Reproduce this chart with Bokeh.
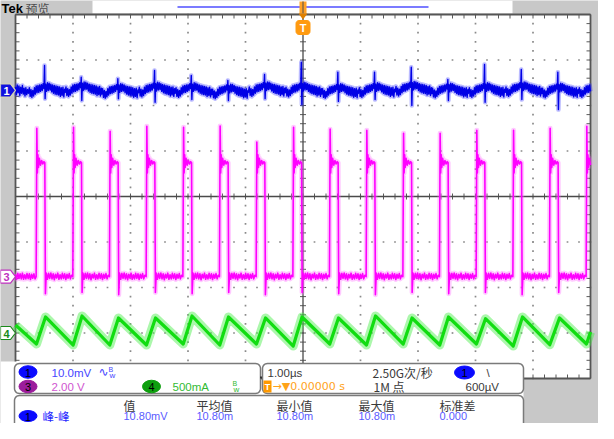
import numpy as np
from bokeh.plotting import figure
from bokeh.models import Range1d
from bokeh.core.properties import value
from bokeh.embed import file_html
from bokeh.resources import INLINE

CH1_MV_PER_DIV = 10.0      # ch1 10.0 mV/div
CH3_V_PER_DIV = 2.0        # ch3 2.00 V/div
CH4_MA_PER_DIV = 500.0     # ch4 500 mA/div
CH1_POS, CH3_POS, CH4_POS = 2.33, -1.76, -3.0   # ground markers (div)

# Ch3 (switch node): rising-edge time of every pulse (us, trigger = 0)
ch3_rise_us = [-4.635, -3.997, -3.360, -2.722, -2.083, -1.447, -0.809, -0.170,
               0.466, 1.104, 1.743, 2.379, 3.017, 3.656, 4.292, 4.930]
ch3_spike_V = [6.52, 6.56, 6.39, 6.61, 6.56, 6.62, 5.91, 6.56,
               6.48, 6.43, 6.30, 6.30, 6.43, 6.43, 6.52, 6.61]
ch3_undershoot_V = [-0.75, -0.70, -0.80, -0.70, -0.75, -0.70, -0.80, -0.70,
                    -0.75, -0.80, -0.70, -0.75, -0.70, -0.80, -0.70, -0.70]
ch3_ring_rel_us = [0.015, 0.025, 0.035, 0.05, 0.07, 0.09, 0.11, 0.13, 0.145]
ch3_ring_V = [4.55, 5.35, 4.80, 5.20, 4.90, 5.10, 4.95, 5.05, 5.00]
ch3_fall_rel_us = 0.155
ch3_tail_rel_us = [0.17, 0.19, 0.21, 0.23, 0.25, 0.27, 0.29, 0.31, 0.33, 0.35, 0.37, 0.39,
                   0.41, 0.43, 0.45, 0.47, 0.49, 0.51, 0.53, 0.55, 0.57, 0.59, 0.61]
ch3_tail_V = [0.15, -0.12, 0.14, -0.08, 0.16, -0.10, 0.12, -0.14, 0.10, -0.06, 0.15, -0.12,
              0.08, -0.10, 0.14, -0.08, 0.12, -0.13, 0.10, -0.07, 0.13, -0.10, 0.06]
ch3_lead_us = [-5.0, -4.98, -4.96, -4.94, -4.92, -4.90, -4.88, -4.86, -4.84, -4.82, -4.80,
               -4.78, -4.76, -4.74, -4.72, -4.70, -4.68, -4.66]
ch3_lead_V = [0.10, -0.12, 0.14, -0.08, 0.12, -0.10, 0.15, -0.12, 0.08, -0.10, 0.13,
              -0.09, 0.12, -0.13, 0.10, -0.07, 0.12, -0.10]

# Ch4 (inductor current): vertices of the triangle wave
ch4_t_us = [-5.0, -4.635, -4.478, -3.997, -3.843, -3.360, -3.209, -2.722, -2.565,
            -2.083, -1.930, -1.447, -1.296, -0.809, -0.652, -0.170, -0.017,
            0.466, 0.617, 1.104, 1.261, 1.743, 1.896, 2.379, 2.530, 3.017, 3.174,
            3.656, 3.817, 4.292, 4.461, 4.930, 5.0]
ch4_mA = [88, -121, 176, -132, 187, -132, 165, -132, 165, -121, 187, -132, 176,
          -121, 165, -143, 176, -121, 165, -132, 187, -121, 165, -132, 176,
          -121, 157, -143, 176, -129, 165, -121, 11]

# Ch1 (output ripple): shape around each switching event
ch1_lead_us = [-5.0, -4.985, -4.97, -4.955, -4.94, -4.925, -4.91, -4.895, -4.88,
               -4.865, -4.85, -4.835, -4.82, -4.805, -4.79]
ch1_lead_mV = [0.8, -0.9, 1.2, -0.5, 1.0, -1.1, 0.7, -0.6, 1.1, -0.8, 0.5, -1.2, 0.6, -0.9, 0.2]
ch1_pre_rel_us = [-0.140, -0.125, -0.110, -0.095, -0.080, -0.065, -0.050, -0.035,
                  -0.020, -0.005, 0.010, 0.025, 0.040, 0.055, 0.070, 0.085,
                  0.100, 0.115, 0.130]
ch1_pre_mV = [-0.6, 0.6, -1.3, 0.2, -1.5, 0.0, -1.2, 0.6, -0.8, 1.0, -0.5, 1.1,
              -0.4, 1.2, -0.2, 1.3, 0.0, 1.5, 0.4]
ch1_spike_rel_us = [0.140, 0.150]
ch1_spike_top_mV = [5.5, 2.9, 2.6, 4.4, 3.3, 2.2, 3.5, 6.2, 4.0, 4.0, 5.1, 2.4, 5.7, 4.6, 4.0, 4.0]
ch1_spike_bot_mV = [-1.8, -2.2, -1.8, -2.6, -2.0, -2.2, -1.8, -3.1, -2.4, -2.0, -3.3, -2.2, -2.6, -2.0, -4.2, -2.2]
ch1_post_rel_us = [0.160, 0.175, 0.190, 0.205, 0.220, 0.235, 0.250, 0.265, 0.280,
                   0.295, 0.310, 0.325, 0.340, 0.355, 0.370, 0.385, 0.400, 0.415,
                   0.430, 0.445, 0.460, 0.475, 0.490]
ch1_post_mV = [1.4, -0.2, 1.7, 0.0, 1.6, 0.1, 1.4, -0.3, 1.2, -0.6, 1.1, -0.8, 1.0,
               -0.9, 0.9, -1.0, 0.8, -1.3, 0.6, -1.1, 0.7, -1.4, 0.3]
ch1_wander_mV = [0.0, 0.2, -0.2, 0.1, 0.0, -0.3, 0.2, 0.1, -0.2, 0.0, 0.3, -0.1, 0.0, 0.2, -0.1, 0.0]

# readouts
meas_headers = ["值", "平均值", "最小值", "最大值", "标准差"]
meas_values = ["10.80mV", "10.80m", "10.80m", "10.80m", "0.000"]
meas_name = "峰-峰"

# ---------------- layout (page pixels -> scope units) ----------------
W, H = 598, 423
X_C, X_DIV = 310.5, 57.5
Y_C, Y_DIV = 204.0, 45.5


def tx(px):
    return (px - X_C) / X_DIV


def ty(py):
    return (Y_C - py) / Y_DIV


p = figure(width=W, height=H, x_range=Range1d(tx(8), tx(8 + W)),
           y_range=Range1d(ty(8 + H), ty(8)), output_backend="svg",
           toolbar_location=None, x_axis_type=None, y_axis_type=None, min_border=0)
p.grid.visible = False
p.outline_line_color = None
p.background_fill_color = "#c8c8c8"
p.border_fill_color = "#c8c8c8"


def quad_px(x0, y0, x1, y1, color):
    p.quad(left=[tx(x0)], right=[tx(x1)], top=[ty(y0)], bottom=[ty(y1)],
           fill_color=color, line_color=None)


def rrect_px(x0, y0, x1, y1, r, fill, line, lw=1.5):
    xs, ys = [], []
    for cx, cy, a0 in [(x1 - r, y0 + r, -90), (x1 - r, y1 - r, 0),
                       (x0 + r, y1 - r, 90), (x0 + r, y0 + r, 180)]:
        for a in np.linspace(a0, a0 + 90, 7):
            xs.append(tx(cx + r * np.cos(np.radians(a))))
            ys.append(ty(cy + r * np.sin(np.radians(a))))
    p.patch(xs, ys, fill_color=fill, line_color=line, line_width=lw)


def text_px(x, y, s, color, size="11.5px", font="Liberation Sans", align="left", style="normal"):
    p.text(x=[tx(x)], y=[ty(y)], text=[s], text_color=color, text_font=value(font),
           text_font_size=size, text_align=align, text_baseline="middle",
           text_font_style=style)


def badge_px(cx, cy, w, h, fill, label, tcolor="black"):
    p.ellipse(x=[tx(cx)], y=[ty(cy)], width=w / X_DIV, height=h / Y_DIV,
              fill_color=fill, line_color=fill)
    text_px(cx, cy + 0.5, label, tcolor, size="11px", align="center")


# backgrounds
quad_px(23, 22, 598, 386, "white")
quad_px(100, 8, 520, 21, "white")
quad_px(8, 369, 531, 440, "white")

# graticule
minor_x = np.round(np.arange(-5, 5.0001, 0.2), 3)
minor_y = np.round(np.arange(-4, 4.0001, 0.2), 3)
dx_, dy_ = [], []
for gx in range(-4, 5):
    if gx != 0:
        for gy in minor_y:
            dx_.append(gx); dy_.append(gy)
for gy in range(-3, 4):
    if gy != 0:
        for gx in minor_x:
            dx_.append(gx); dy_.append(gy)
p.scatter(dx_, dy_, marker="square", size=1.7, fill_color="#8a8a8a", line_color=None)

tk = 3.0
sx0, sy0, sx1, sy1 = [], [], [], []
for gx in minor_x:
    sx0 += [gx, gx, gx]; sx1 += [gx, gx, gx]
    sy0 += [-tk / Y_DIV, 4, -4]; sy1 += [tk / Y_DIV, 4 - 4 / Y_DIV, -4 + 4 / Y_DIV]
for gy in minor_y:
    sy0 += [gy, gy, gy]; sy1 += [gy, gy, gy]
    sx0 += [-tk / X_DIV, -5, 5]; sx1 += [tk / X_DIV, -5 + 4 / X_DIV, 5 - 4 / X_DIV]
p.segment(sx0, sy0, sx1, sy1, line_color="#5a5a5a", line_width=1)
p.segment([-5, 0], [0, -4], [5, 0], [0, 4], line_color="#4a4a4a", line_width=1.3)
# frame border
p.segment([tx(23), tx(23), tx(598), tx(23)], [ty(22), ty(22), ty(22), ty(386)],
          [tx(598), tx(23), tx(598), tx(598)], [ty(22), ty(369), ty(386), ty(386)],
          line_color="#555555", line_width=1.8)

# ---------------- traces ----------------
def clip(ts, vs):
    out_t, out_v = [], []
    for t, v in zip(ts, vs):
        if -5.0 <= t <= 5.0001:
            out_t.append(t); out_v.append(v)
    return out_t, out_v


# ch3
pt, pv = list(ch3_lead_us), list(ch3_lead_V)
for i, r in enumerate(ch3_rise_us):
    pt += [r - 0.006, r + 0.006]; pv += [0.0, ch3_spike_V[i]]
    pt += [r + d for d in ch3_ring_rel_us]; pv += ch3_ring_V
    pt.append(r + ch3_fall_rel_us); pv.append(ch3_undershoot_V[i])
    pt += [r + d for d in ch3_tail_rel_us]; pv += ch3_tail_V
pt, pv = clip(pt, pv)
py = [v / CH3_V_PER_DIV + CH3_POS for v in pv]
p.line(pt, py, line_color="#ff66ff", line_width=5, line_alpha=0.35, line_join="round")
p.line(pt, py, line_color="#ff00ff", line_width=1.6, line_join="round")

# ch4
gy_ = [v / CH4_MA_PER_DIV + CH4_POS for v in ch4_mA]
p.line(ch4_t_us, gy_, line_color="#44ee44", line_width=9, line_alpha=0.45, line_join="round")
p.line(ch4_t_us, gy_, line_color="#11dd11", line_width=3.2, line_join="round")

# ch1
bt, bv = list(ch1_lead_us), list(ch1_lead_mV)
for i, r in enumerate(ch3_rise_us):
    w = ch1_wander_mV[i]
    bt += [r + d for d in ch1_pre_rel_us]; bv += [m + w for m in ch1_pre_mV]
    bt += [r + d for d in ch1_spike_rel_us]; bv += [ch1_spike_top_mV[i], ch1_spike_bot_mV[i]]
    bt += [r + d for d in ch1_post_rel_us]; bv += [m + w for m in ch1_post_mV]
bt, bv = clip(bt, bv)
by = [v / CH1_MV_PER_DIV + CH1_POS for v in bv]
p.line(bt, by, line_color="#3a3aff", line_width=4.5, line_alpha=0.35, line_join="round")
p.line(bt, by, line_color="#0000e6", line_width=1.4, line_join="round")

# channel markers on the left
for pos, fill, line, lab, tcol in [(CH1_POS, "#1010e0", "#d8d8b0", "1", "white"),
                                    (CH3_POS, "white", "#c030c0", "3", "#c030c0"),
                                    (CH4_POS, "white", "#1a8a1a", "4", "#1a8a1a")]:
    yc = Y_C - pos * Y_DIV
    xs = [tx(8), tx(18), tx(23), tx(18), tx(8)]
    ys = [ty(yc - 6.5), ty(yc - 6.5), ty(yc), ty(yc + 6.5), ty(yc + 6.5)]
    p.patch(xs, ys, fill_color=fill, line_color=line, line_width=1.2)
    text_px(14, yc + 0.5, lab, tcol, size="11px", align="center", style="bold")

# top strip
text_px(9, 16, "Tek", "black", size="13px", style="bold")
text_px(33, 16, "预览", "#4d4d4d", size="12px", font="Noto Sans CJK SC")
p.segment([tx(185)], [ty(14.5)], [tx(436)], [ty(14.5)], line_color="#7b7bff", line_width=2)
quad_px(307, 9, 314, 21, "#ffa126")
p.segment([tx(310.5)], [ty(9)], [tx(310.5)], [ty(21)], line_color="#8a6a40", line_width=1.5)
p.patch([tx(306), tx(315), tx(310.5)], [ty(21), ty(21), ty(27)], fill_color="#e08000", line_color=None)
rrect_px(303.5, 28, 317.5, 42, 3, "#ff9a10", "#ff9a10", 1)
text_px(310.5, 35.5, "T", "white", size="11px", align="center", style="bold")

# ---------------- readout panels ----------------
rrect_px(22, 371, 268, 401, 5, "white", "#7a7a7a")
rrect_px(270, 371, 531, 401, 5, "white", "#7a7a7a")
rrect_px(22, 403, 531, 452, 5, "white", "#7a7a7a")
quad_px(267.5, 384, 269.5, 386, "#333333")

badge_px(35.5, 379.5, 18, 12.5, "#0a0aff", "1")
text_px(59, 380, "10.0mV", "#4646ff")
text_px(106, 379, "∿", "#4646ff", size="12px", font="DejaVu Sans")
text_px(116, 376.5, "B", "#4646ff", size="7px")
text_px(117, 382.5, "w", "#4646ff", size="8px")
badge_px(35.5, 394, 18, 12.5, "#9c1c9c", "3")
text_px(59, 394, "2.00 V", "#d055d0")
badge_px(159, 394, 18, 12.5, "#0f9f0f", "4")
text_px(180, 394, "500mA", "#33bb33")
text_px(240, 391, "B", "#33bb33", size="7px")
text_px(241, 397, "w", "#33bb33", size="8px")

text_px(275, 380, "1.00µs", "#3a3a3a")
text_px(380, 380, "2.50G次/秒", "#3a3a3a", size="12px", font="Noto Sans CJK SC")
badge_px(472, 380, 20, 13, "#0a0aff", "1")
text_px(494, 380, "\\", "#3a3a3a")
quad_px(271, 388, 279, 400, "#ff9900")
text_px(275, 394.5, "T", "white", size="9px", align="center", style="bold")
text_px(280, 394, "→▼0.00000 s", "#ffa31a", size="11px", font="DejaVu Sans")
text_px(381, 394, "1M 点", "#3a3a3a", size="12px", font="Noto Sans CJK SC")
text_px(473, 394, "600µV", "#3a3a3a")

col_x = [131, 204, 284, 366, 447]
for x, h_, v_ in zip(col_x, meas_headers, meas_values):
    text_px(x, 412.5, h_, "#3a3a3a", size="12px", font="Noto Sans CJK SC")
    text_px(x, 423.5, v_, "#5a5aff", size="11px")
badge_px(35.5, 423.5, 18, 11, "#0a0aff", "1")
text_px(50, 423.5, meas_name, "#2828ff", size="11.5px", font="Noto Sans CJK SC")

open("out.html", "w").write(file_html(p, INLINE, "Tek"))
